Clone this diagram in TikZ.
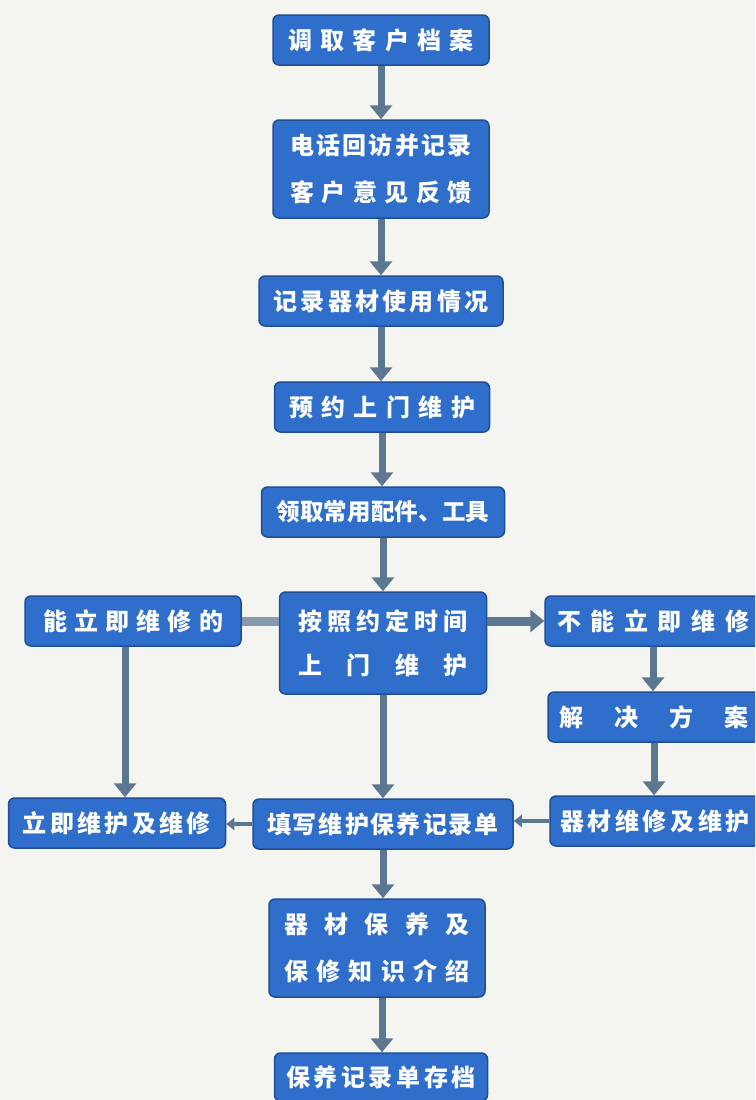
\documentclass[tikz,border=0pt]{standalone}
\usepackage{fontspec}
\newfontfamily\cjk{Noto Sans CJK SC}
\usetikzlibrary{arrows.meta}
\definecolor{bg}{HTML}{F4F4F1}
\definecolor{boxfill}{HTML}{2F6FCB}
\definecolor{boxline}{HTML}{1F4E96}
\definecolor{arr}{HTML}{5C7890}
\newcommand{\spread}[2]{\makebox[#1pt][s]{\spaceskip=0pt plus 1fil\relax #2}}
\begin{document}
\begin{tikzpicture}[x=1pt,y=-1pt,
 box/.style={draw=boxline, line width=1.5pt, fill=boxfill, rounded corners=6pt, text=white, inner sep=0pt, align=center, font=\cjk\bfseries\fontsize{24}{47}\selectfont},
 flow/.style={draw=arr, line width=7pt, -{Triangle[width=22pt,length=14pt]}},
 bar/.style={draw=arr!75!white, line width=9pt},
 thinarr/.style={draw=arr, line width=4pt, -{Triangle[width=12pt,length=8pt]}}
]
\fill[bg] (0,0) rectangle (755,1100);
\clip (0,0) rectangle (755,1100);

\node[box, minimum width=216pt, minimum height=50pt] (n1) at (381,40) {\spread{185}{调 取 客 户 档 案}};
\node[box, minimum width=216pt, minimum height=98pt] (n2) at (381,169) {\spread{182}{电 话 回 访 并 记 录}\\\spread{182}{客 户 意 见 反 馈}};
\node[box, minimum width=244pt, minimum height=50pt] (n3) at (381,301) {\spread{215}{记 录 器 材 使 用 情 况}};
\node[box, minimum width=215pt, minimum height=50pt] (n4) at (382,407) {\spread{186}{预 约 上 门 维 护}};
\node[box, minimum width=243pt, minimum height=50pt, font=\cjk\bfseries\fontsize{23.5}{47}\selectfont] (n5) at (383,512) {\spread{213}{领 取 常 用 配 件 、 工 具}};
\node[box, minimum width=207pt, minimum height=102pt, font=\cjk\bfseries\fontsize{24}{44}\selectfont] (n6) at (383,643) {\spread{170}{按 照 约 定 时 间}\\\spread{170}{上 门 维 护}};
\node[box, minimum width=216pt, minimum height=50pt] (n7) at (133,621) {\spread{180}{能 立 即 维 修 的}};
\node[box, minimum width=216pt, minimum height=50pt] (n8) at (653,621) {\spread{192}{不 能 立 即 维 修}};
\node[box, minimum width=212pt, minimum height=50pt] (n9) at (654,717) {\spread{190}{解 决 方 案}};
\node[box, minimum width=210pt, minimum height=50pt] (n10) at (655,821) {\spread{190}{器 材 维 修 及 维 护}};
\node[box, minimum width=260pt, minimum height=50pt] (n11) at (383,824) {\spread{232}{填 写 维 护 保 养 记 录 单}};
\node[box, minimum width=217pt, minimum height=50pt] (n12) at (117,823) {\spread{188}{立 即 维 护 及 维 修}};
\node[box, minimum width=216pt, minimum height=98pt] (n13) at (377,948) {\spread{185}{器 材 保 养 及}\\\spread{185}{保 修 知 识 介 绍}};
\node[box, minimum width=213pt, minimum height=48pt] (n14) at (381,1077) {\spread{190}{保 养 记 录 单 存 档}};

\draw[flow] (n1.south) -- (n1.south |- n2.north);
\draw[flow] (n2.south) -- (n2.south |- n3.north);
\draw[flow] (n3.south) -- (n3.south |- n4.north);
\draw[flow] (n4.south) -- (n4.south |- n5.north);
\draw[flow] (n5.south) -- (n5.south |- n6.north);
\draw[bar] (n6.west |- n7.east) -- (n7.east);
\draw[flow, line width=9pt] (n6.east |- n8.west) -- (n8.west);
\draw[flow] (n8.south) -- (n8.south |- n9.north);
\draw[flow] (n9.south) -- (n9.south |- n10.north);
\coordinate (a7) at ([xshift=-8pt]n7.south);
\draw[flow] (a7) -- (a7 |- n12.north);
\draw[flow] (n6.south) -- (n6.south |- n11.north);
\draw[thinarr] (n10.west) -- (n11.east |- n10.west);
\draw[thinarr] (n11.west) -- (n12.east |- n11.west);
\coordinate (a11) at (n11.south);
\draw[flow] (a11) -- (a11 |- n13.north);
\coordinate (a13) at ([xshift=5pt]n13.south);
\draw[flow] (a13) -- (a13 |- n14.north);
\end{tikzpicture}
\end{document}
